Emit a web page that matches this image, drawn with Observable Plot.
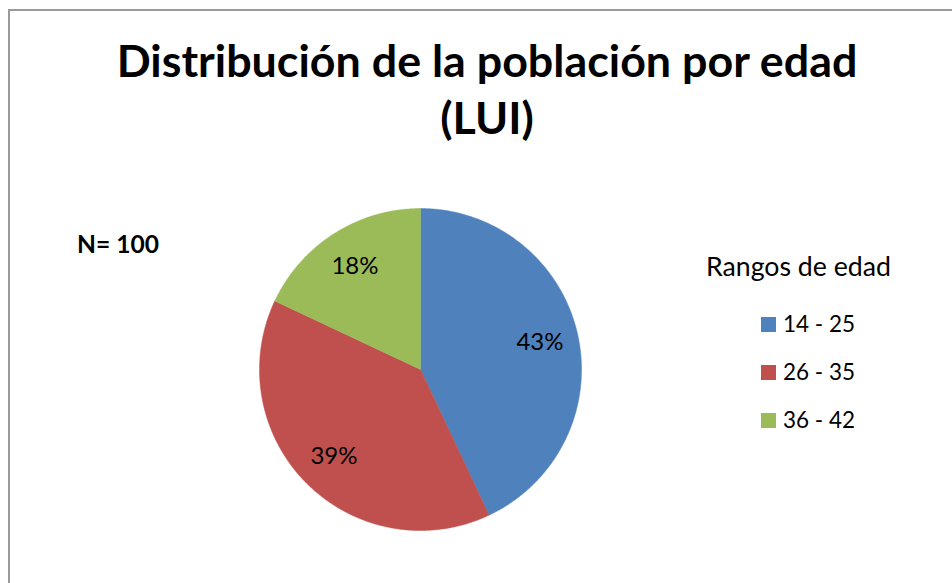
<!DOCTYPE html>
<html><head><meta charset="utf-8">
<script src="https://cdn.jsdelivr.net/npm/d3@7"></script>
<script src="https://cdn.jsdelivr.net/npm/@observablehq/plot@0.6"></script>
<style>
body{margin:0;background:#fff}
#wrap{position:relative;width:952px;height:583px;overflow:hidden;background:#fff}
#wrap svg{position:absolute;left:0;top:0}
</style>
</head><body><div id="wrap"></div>
<script>
const categories = ["14 - 25", "26 - 35", "36 - 42"];
const values = [43, 39, 18];
const colors = ["#4F81BD", "#C0504D", "#9BBB59"];
const valueLabels = ["43%", "39%", "18%"];
const titleLines = ["Distribución de la población por edad", "(LUI)"];
const noteText = "N= 100";
const legendTitle = "Rangos de edad";

const arcs = d3.pie().sort(null).value(d => d)(values);
const pts = [];
const lbl = [];
arcs.forEach((a, i) => {
  const cat = categories[i];
  pts.push({x: 0, y: 0, cat});
  const n = Math.max(2, Math.ceil((a.endAngle - a.startAngle) / 0.01));
  for (let k = 0; k <= n; k++) {
    const t = a.startAngle + (a.endAngle - a.startAngle) * k / n;
    pts.push({x: Math.sin(t), y: Math.cos(t), cat});
  }
  pts.push({x: 0, y: 0, cat});
  const m = (a.startAngle + a.endAngle) / 2;
  lbl.push({x: 0.76 * Math.sin(m), y: 0.76 * Math.cos(m), text: valueLabels[i]});
});

const chart = Plot.plot({
  width: 952, height: 583, margin: 0,
  x: {domain: [-1, 1], range: [259, 581], axis: null},
  y: {domain: [-1, 1], range: [530, 208], axis: null},
  color: {domain: categories, range: colors},
  style: {fontFamily: "Lato", background: "transparent"},
  marks: [
    Plot.line(pts, {x: "x", y: "y", z: "cat", fill: "cat", stroke: "cat", strokeWidth: 0.5, curve: "linear"}),
    Plot.text(lbl, {x: "x", y: "y", text: "text", fontSize: 24, fill: "#000", fontFamily: "Lato"})
  ]
});
const wrap = document.getElementById("wrap");
wrap.appendChild(chart);

const ov = d3.select(wrap).append("svg").attr("width", 952).attr("height", 583)
  .style("font-family", "Lato").style("pointer-events", "none");
ov.append("rect").attr("x", 9).attr("y", 10).attr("width", 980).attr("height", 620)
  .attr("fill", "none").attr("stroke", "#9a9a9a").attr("stroke-width", 2);

function fit(sel, target, base) {
  const w = sel.node().getComputedTextLength();
  if (w > 0) sel.attr("font-size", base * target / w);
  return sel;
}

const tg = ov.append("g");
const t1 = tg.append("text").attr("x", 0).attr("y", 77).attr("text-anchor", "middle")
  .attr("font-weight", "bold").attr("font-size", 44).attr("fill", "#000").text(titleLines[0]);
tg.append("text").attr("x", 0).attr("y", 134).attr("text-anchor", "middle")
  .attr("font-weight", "bold").attr("font-size", 44).attr("fill", "#000").text(titleLines[1]);
const w1 = t1.node().getComputedTextLength();
const f = w1 > 0 ? 741 / w1 : 1;
tg.attr("transform", `translate(487,0) scale(${f},1)`);

fit(ov.append("text").attr("x", 77).attr("y", 253).attr("font-weight", "bold")
  .attr("font-size", 22).attr("fill", "#000").text(noteText), 82, 22);

fit(ov.append("text").attr("x", 706).attr("y", 276).attr("font-size", 23)
  .attr("fill", "#000").text(legendTitle), 185, 23);
categories.forEach((c, i) => {
  ov.append("rect").attr("x", 761).attr("y", 317 + 48 * i).attr("width", 15).attr("height", 15)
    .attr("fill", colors[i]);
  fit(ov.append("text").attr("x", 783).attr("y", 332 + 48 * i).attr("font-size", 22)
    .attr("fill", "#000").text(c), 72, 22);
});
</script>
</body></html>
